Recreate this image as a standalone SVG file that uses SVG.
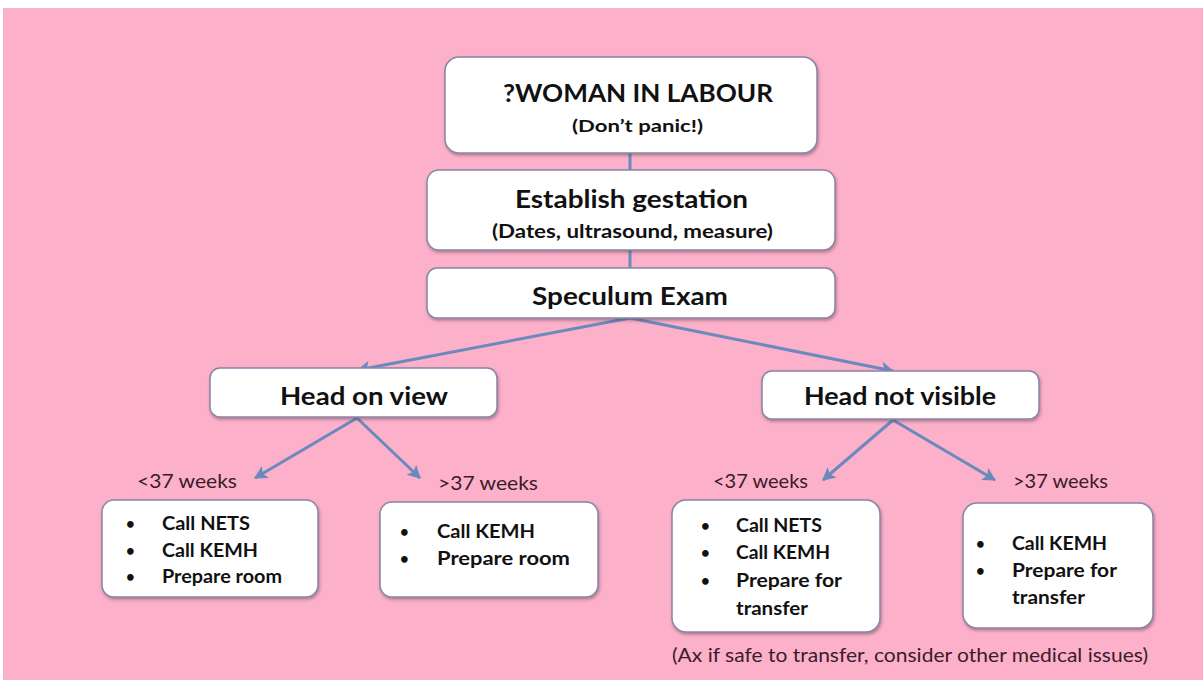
<svg xmlns="http://www.w3.org/2000/svg" width="1203" height="680" viewBox="0 0 1203 680">
<defs>
<style>
.box{fill:#ffffff;stroke:#8a84a6;stroke-width:1.5;filter:url(#sh)}
.t{font-family:Lato,"Open Sans",sans-serif;font-weight:bold;fill:#111111}
.w{font-family:Lato,"Open Sans",sans-serif;font-size:19px;fill:#3a1c2c}
.b{font-family:Lato,"Open Sans",sans-serif;font-weight:bold;font-size:19px;fill:#111111}
.d{font-family:Lato,"Open Sans",sans-serif;font-weight:bold;font-size:15px;fill:#111111}
.c{stroke:#6a8abd;stroke-width:3;fill:none}
</style>
<filter id="sh" x="-10%" y="-10%" width="120%" height="130%">
<feDropShadow dx="1" dy="2" stdDeviation="1.5" flood-color="#5a3a4a" flood-opacity="0.45"/>
</filter>
<marker id="ah" markerWidth="16" markerHeight="16" refX="12" refY="7" orient="auto" markerUnits="userSpaceOnUse">
<path d="M0,0 L13,7 L0,14 L3,7 Z" fill="#6a8abd"/>
</marker>
</defs>
<rect x="0" y="0" width="1203" height="680" fill="#ffffff"/>
<rect x="3" y="8" width="1200" height="672" fill="#fcb0c9"/>

<g id="connectors">
<line class="c" x1="630" y1="153" x2="630" y2="170"/>
<line class="c" x1="630" y1="250" x2="630" y2="268"/>
<line class="c" x1="630" y1="318" x2="358" y2="370" marker-end="url(#ah)"/>
<line class="c" x1="630" y1="318" x2="893" y2="371" marker-end="url(#ah)"/>
<line class="c" x1="357" y1="418" x2="255" y2="478" marker-end="url(#ah)"/>
<line class="c" x1="357" y1="418" x2="420" y2="478" marker-end="url(#ah)"/>
<line class="c" x1="893" y1="420" x2="823" y2="480" marker-end="url(#ah)"/>
<line class="c" x1="893" y1="420" x2="995" y2="480" marker-end="url(#ah)"/>
</g>

<g id="n-labour">
<rect class="box" x="445" y="57" width="372" height="96" rx="14"/>
<text class="t" x="503" y="102" font-size="25" textLength="270" lengthAdjust="spacingAndGlyphs">?WOMAN IN LABOUR</text>
<text class="t" x="572" y="132" font-size="17" textLength="131" lengthAdjust="spacingAndGlyphs">(Don’t panic!)</text>
</g>

<g id="n-gestation">
<rect class="box" x="427" y="170" width="408" height="80" rx="12"/>
<text class="t" x="515" y="208" font-size="25" textLength="233" lengthAdjust="spacingAndGlyphs">Establish gestation</text>
<text class="t" x="492" y="238" font-size="19" textLength="281" lengthAdjust="spacingAndGlyphs">(Dates, ultrasound, measure)</text>
</g>

<g id="n-speculum">
<rect class="box" x="427" y="268" width="408" height="50" rx="10"/>
<text class="t" x="532" y="305" font-size="25" textLength="196" lengthAdjust="spacingAndGlyphs">Speculum Exam</text>
</g>

<g id="n-headon">
<rect class="box" x="210" y="368" width="287" height="49" rx="10"/>
<text class="t" x="280" y="405" font-size="25" textLength="168" lengthAdjust="spacingAndGlyphs">Head on view</text>
</g>

<g id="n-headnot">
<rect class="box" x="762" y="371" width="277" height="48" rx="10"/>
<text class="t" x="804" y="405" font-size="25" textLength="192" lengthAdjust="spacingAndGlyphs">Head not visible</text>
</g>

<g id="lbl-weeks">
<text class="w" x="137" y="488" textLength="100" lengthAdjust="spacingAndGlyphs">&lt;37 weeks</text>
<text class="w" x="438" y="490" textLength="100" lengthAdjust="spacingAndGlyphs">&gt;37 weeks</text>
<text class="w" x="713" y="488" textLength="95" lengthAdjust="spacingAndGlyphs">&lt;37 weeks</text>
<text class="w" x="1013" y="488" textLength="95" lengthAdjust="spacingAndGlyphs">&gt;37 weeks</text>
</g>

<g id="n-a">
<rect class="box" x="102" y="500" width="216" height="97" rx="12"/>
<text class="d" x="126" y="529">•</text>
<text class="d" x="126" y="556">•</text>
<text class="d" x="126" y="582">•</text>
<text class="b" x="162" y="530" textLength="88" lengthAdjust="spacingAndGlyphs">Call NETS</text>
<text class="b" x="162" y="557" textLength="96" lengthAdjust="spacingAndGlyphs">Call KEMH</text>
<text class="b" x="162" y="583" textLength="120" lengthAdjust="spacingAndGlyphs">Prepare room</text>
</g>

<g id="n-b">
<rect class="box" x="380" y="502" width="218" height="95" rx="12"/>
<text class="d" x="400" y="537">•</text>
<text class="d" x="400" y="564">•</text>
<text class="b" x="437" y="538" textLength="98" lengthAdjust="spacingAndGlyphs">Call KEMH</text>
<text class="b" x="437" y="565" textLength="133" lengthAdjust="spacingAndGlyphs">Prepare room</text>
</g>

<g id="n-c">
<rect class="box" x="672" y="500" width="208" height="132" rx="14"/>
<text class="d" x="701" y="531">•</text>
<text class="d" x="701" y="558">•</text>
<text class="d" x="701" y="586">•</text>
<text class="b" x="736" y="532" textLength="86" lengthAdjust="spacingAndGlyphs">Call NETS</text>
<text class="b" x="736" y="559" textLength="94" lengthAdjust="spacingAndGlyphs">Call KEMH</text>
<text class="b" x="736" y="587" textLength="106" lengthAdjust="spacingAndGlyphs">Prepare for</text>
<text class="b" x="736" y="615" textLength="72" lengthAdjust="spacingAndGlyphs">transfer</text>
</g>

<g id="n-d">
<rect class="box" x="963" y="503" width="190" height="125" rx="14"/>
<text class="d" x="976" y="549">•</text>
<text class="d" x="976" y="576">•</text>
<text class="b" x="1012" y="550" textLength="95" lengthAdjust="spacingAndGlyphs">Call KEMH</text>
<text class="b" x="1012" y="577" textLength="105" lengthAdjust="spacingAndGlyphs">Prepare for</text>
<text class="b" x="1012" y="604" textLength="73" lengthAdjust="spacingAndGlyphs">transfer</text>
</g>

<g id="footer">
<text class="w" x="672" y="662" textLength="476" lengthAdjust="spacingAndGlyphs">(Ax if safe to transfer, consider other medical issues)</text>
</g>
</svg>
